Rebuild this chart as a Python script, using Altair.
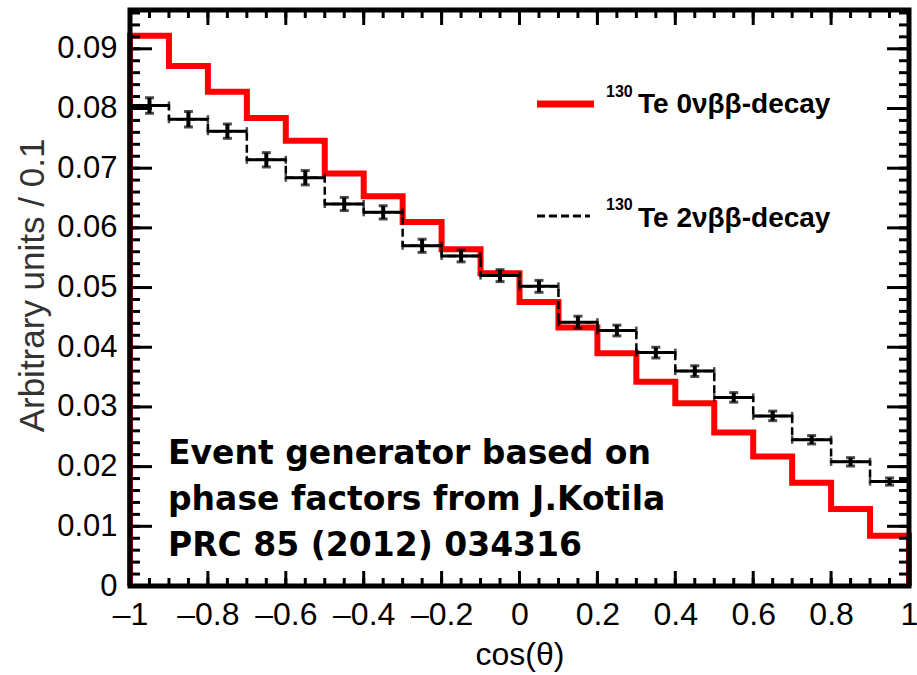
import altair as alt
import pandas as pd

# ---------------- data ----------------
bin_edges = [-1.0, -0.9, -0.8, -0.7, -0.6, -0.5, -0.4, -0.3, -0.2, -0.1, 0.0,
             0.1, 0.2, 0.3, 0.4, 0.5, 0.6, 0.7, 0.8, 0.9, 1.0]
te_0nu = [0.0922, 0.0871, 0.0828, 0.0784, 0.0746, 0.0691, 0.0653, 0.0610, 0.0564, 0.0524,
          0.0476, 0.0433, 0.0390, 0.0342, 0.0306, 0.0257, 0.0217, 0.0173, 0.0129, 0.0084]
te_2nu = [0.0805, 0.0782, 0.0762, 0.0714, 0.0684, 0.0640, 0.0626, 0.0570, 0.0553, 0.0520,
          0.0502, 0.0442, 0.0428, 0.0391, 0.0360, 0.0316, 0.0285, 0.0245, 0.0208, 0.0175]
te_2nu_err = [0.0013, 0.0013, 0.0012, 0.0012, 0.0012, 0.0011, 0.0011, 0.0011, 0.0010, 0.0010,
              0.0010, 0.0010, 0.0009, 0.0009, 0.0009, 0.0008, 0.0008, 0.0007, 0.0007, 0.0006]

x_major = [-1.0, -0.8, -0.6, -0.4, -0.2, 0.0, 0.2, 0.4, 0.6, 0.8, 1.0]
x_minor = [round(-1.0 + 0.05 * i, 3) for i in range(41)]
y_major = [0.0, 0.01, 0.02, 0.03, 0.04, 0.05, 0.06, 0.07, 0.08, 0.09]
y_minor = [round(0.002 * i, 4) for i in range(49)]
y_max = 0.0965

x_title = "cos(θ)"
y_title = "Arbitrary units / 0.1"
legend_isotope = "130"
legend_labels = ["Te 0νββ-decay", "Te 2νββ-decay"]
note_lines = ["Event generator based on", "phase factors from J.Kotila", "PRC 85 (2012) 034316"]

# ---------------- layout ----------------
W, H = 779, 576
AXFONT = "Liberation Sans"

xaxis = alt.Axis(values=x_major, ticks=False, domain=False, grid=False,
                 labelExpr="datum.value < 0 ? '\u2013' + format(-datum.value, '~g') : format(datum.value, '~g')",
                 labelFont=AXFONT, labelFontSize=32, labelColor="black", labelPadding=13,
                 labelFlush=False, labelOverlap=False,
                 title=x_title, titleFont=AXFONT, titleFontSize=32, titleFontWeight="normal",
                 titleColor="black", titleBaseline="alphabetic", titleY=78, titleX=W / 2)
yaxis = alt.Axis(values=y_major, ticks=False, domain=False, grid=False,
                 labelExpr="format(datum.value, '~g')",
                 labelFont=AXFONT, labelFontSize=31, labelColor="black", labelPadding=13,
                 labelFlush=False, labelOverlap=False,
                 title=y_title, titleFont=AXFONT, titleFontSize=35, titleFontWeight="normal",
                 titleColor="#333333", titleAngle=-90, titleBaseline="alphabetic",
                 titleAlign="center", titleX=-87, titleY=275)

xs = alt.Scale(domain=[-1, 1], nice=False, zero=False)
ys = alt.Scale(domain=[0, y_max], nice=False, zero=False)


def X(f):
    return alt.X(f, type="quantitative", scale=xs, axis=xaxis)


def Y(f):
    return alt.Y(f, type="quantitative", scale=ys, axis=yaxis)


# red histogram outline (closed to zero at both ends)
red_rows = [{"x": bin_edges[0], "y": 0.0, "o": 0}]
k = 1
for i, v in enumerate(te_0nu):
    red_rows.append({"x": bin_edges[i], "y": v, "o": k}); k += 1
    red_rows.append({"x": bin_edges[i + 1], "y": v, "o": k}); k += 1
red_rows.append({"x": bin_edges[-1], "y": 0.0, "o": k})
red_df = pd.DataFrame(red_rows)

blk_rows = []
k = 0
for i, v in enumerate(te_2nu):
    blk_rows.append({"x": bin_edges[i], "y": v, "o": k}); k += 1
    blk_rows.append({"x": bin_edges[i + 1], "y": v, "o": k}); k += 1
blk_df = pd.DataFrame(blk_rows)

bins_df = pd.DataFrame({
    "lo": bin_edges[:-1],
    "hi": bin_edges[1:],
    "c": [(a + b) / 2 for a, b in zip(bin_edges[:-1], bin_edges[1:])],
    "v": te_2nu,
    "e": te_2nu_err,
})
bins_df["vlo"] = bins_df["v"] - bins_df["e"]
bins_df["vhi"] = bins_df["v"] + bins_df["e"]

caps_v = pd.DataFrame({"x": list(bins_df["c"]) * 2,
                       "y": list(bins_df["vlo"]) + list(bins_df["vhi"])})
caps_h = pd.DataFrame({"x": list(bins_df["lo"]) + list(bins_df["hi"]),
                       "y": list(bins_df["v"]) * 2})

red = alt.Chart(red_df).mark_line(color="#ff0000", strokeWidth=6, strokeJoin="miter",
                                  strokeCap="butt").encode(x=X("x"), y=Y("y"), order="o:Q")
blk = alt.Chart(blk_df).mark_line(color="black", strokeWidth=2.5, strokeDash=[8, 4],
                                  strokeJoin="miter").encode(x=X("x"), y=Y("y"), order="o:Q")
hbar = alt.Chart(bins_df).mark_rule(color="black", strokeWidth=3).encode(
    x=X("lo"), x2="hi", y=Y("v"))
vbar = alt.Chart(bins_df).mark_rule(color="black", strokeWidth=4).encode(
    x=X("c"), y=Y("vlo"), y2="vhi")
capv = alt.Chart(caps_v).mark_tick(color="black", orient="horizontal", size=9,
                                   thickness=3).encode(x=X("x"), y=Y("y"))
caph = alt.Chart(caps_h).mark_tick(color="black", orient="vertical", size=8,
                                   thickness=2.5).encode(x=X("x"), y=Y("y"))

# inward ticks on all four sides
xmaj_df = pd.DataFrame({"t": x_major})
xmin_df = pd.DataFrame({"t": x_minor})
ymaj_df = pd.DataFrame({"t": y_major})
ymin_df = pd.DataFrame({"t": y_minor})
TW = 3
ticks = [
    alt.Chart(xmaj_df).mark_rule(color="black", strokeWidth=TW).encode(
        x=X("t"), y=alt.value(H), y2=alt.value(H - 15)),
    alt.Chart(xmin_df).mark_rule(color="black", strokeWidth=TW).encode(
        x=X("t"), y=alt.value(H), y2=alt.value(H - 8)),
    alt.Chart(xmaj_df).mark_rule(color="black", strokeWidth=TW).encode(
        x=X("t"), y=alt.value(0), y2=alt.value(15)),
    alt.Chart(xmin_df).mark_rule(color="black", strokeWidth=TW).encode(
        x=X("t"), y=alt.value(0), y2=alt.value(8)),
    alt.Chart(ymaj_df).mark_rule(color="black", strokeWidth=TW).encode(
        y=Y("t"), x=alt.value(0), x2=alt.value(22)),
    alt.Chart(ymin_df).mark_rule(color="black", strokeWidth=TW).encode(
        y=Y("t"), x=alt.value(0), x2=alt.value(10)),
    alt.Chart(ymaj_df).mark_rule(color="black", strokeWidth=TW).encode(
        y=Y("t"), x=alt.value(W), x2=alt.value(W - 22)),
    alt.Chart(ymin_df).mark_rule(color="black", strokeWidth=TW).encode(
        y=Y("t"), x=alt.value(W), x2=alt.value(W - 10)),
]

one = pd.DataFrame({"a": [0]})
frame = alt.Chart(one).mark_rect(fillOpacity=0, stroke="black", strokeWidth=5).encode(
    x=alt.value(0), x2=alt.value(W), y=alt.value(0), y2=alt.value(H))


def label(text, x, y, size, weight="bold", font=AXFONT, **kw):
    return alt.Chart(one).mark_text(align="left", baseline="alphabetic", fontSize=size,
                                    fontWeight=weight, font=font, color="black", **kw).encode(
        x=alt.value(x), y=alt.value(y), text=alt.value(text))


leg_red = alt.Chart(one).mark_rule(color="#ff0000", strokeWidth=7).encode(
    x=alt.value(407), x2=alt.value(464), y=alt.value(94))
leg_blk = alt.Chart(one).mark_rule(color="black", strokeWidth=3, strokeDash=[8, 4]).encode(
    x=alt.value(407), x2=alt.value(460), y=alt.value(206))

texts = [
    label(legend_isotope, 476, 87, 16),
    label(legend_labels[0], 508, 103, 28),
    label(legend_isotope, 476, 200, 16),
    label(legend_labels[1], 508, 217, 28),
    alt.Chart(one).mark_text(align="left", baseline="alphabetic", fontSize=33, fontWeight="bold",
                             font="DejaVu Sans", color="black", lineBreak="\n",
                             lineHeight=46).encode(
        x=alt.value(38), y=alt.value(454), text=alt.value("\n".join(note_lines))),
]

chart = alt.layer(
    red, blk, hbar, vbar, capv, caph, *ticks, frame, leg_red, leg_blk, *texts
).properties(
    width=W, height=H,
    padding={"left": 130, "top": 10, "right": 8, "bottom": 89},
    autosize=alt.AutoSizeParams(type="none"),
    background="white",
).configure_view(stroke=None)

chart.save("out.html", embed_options={"renderer": "svg", "actions": False})
